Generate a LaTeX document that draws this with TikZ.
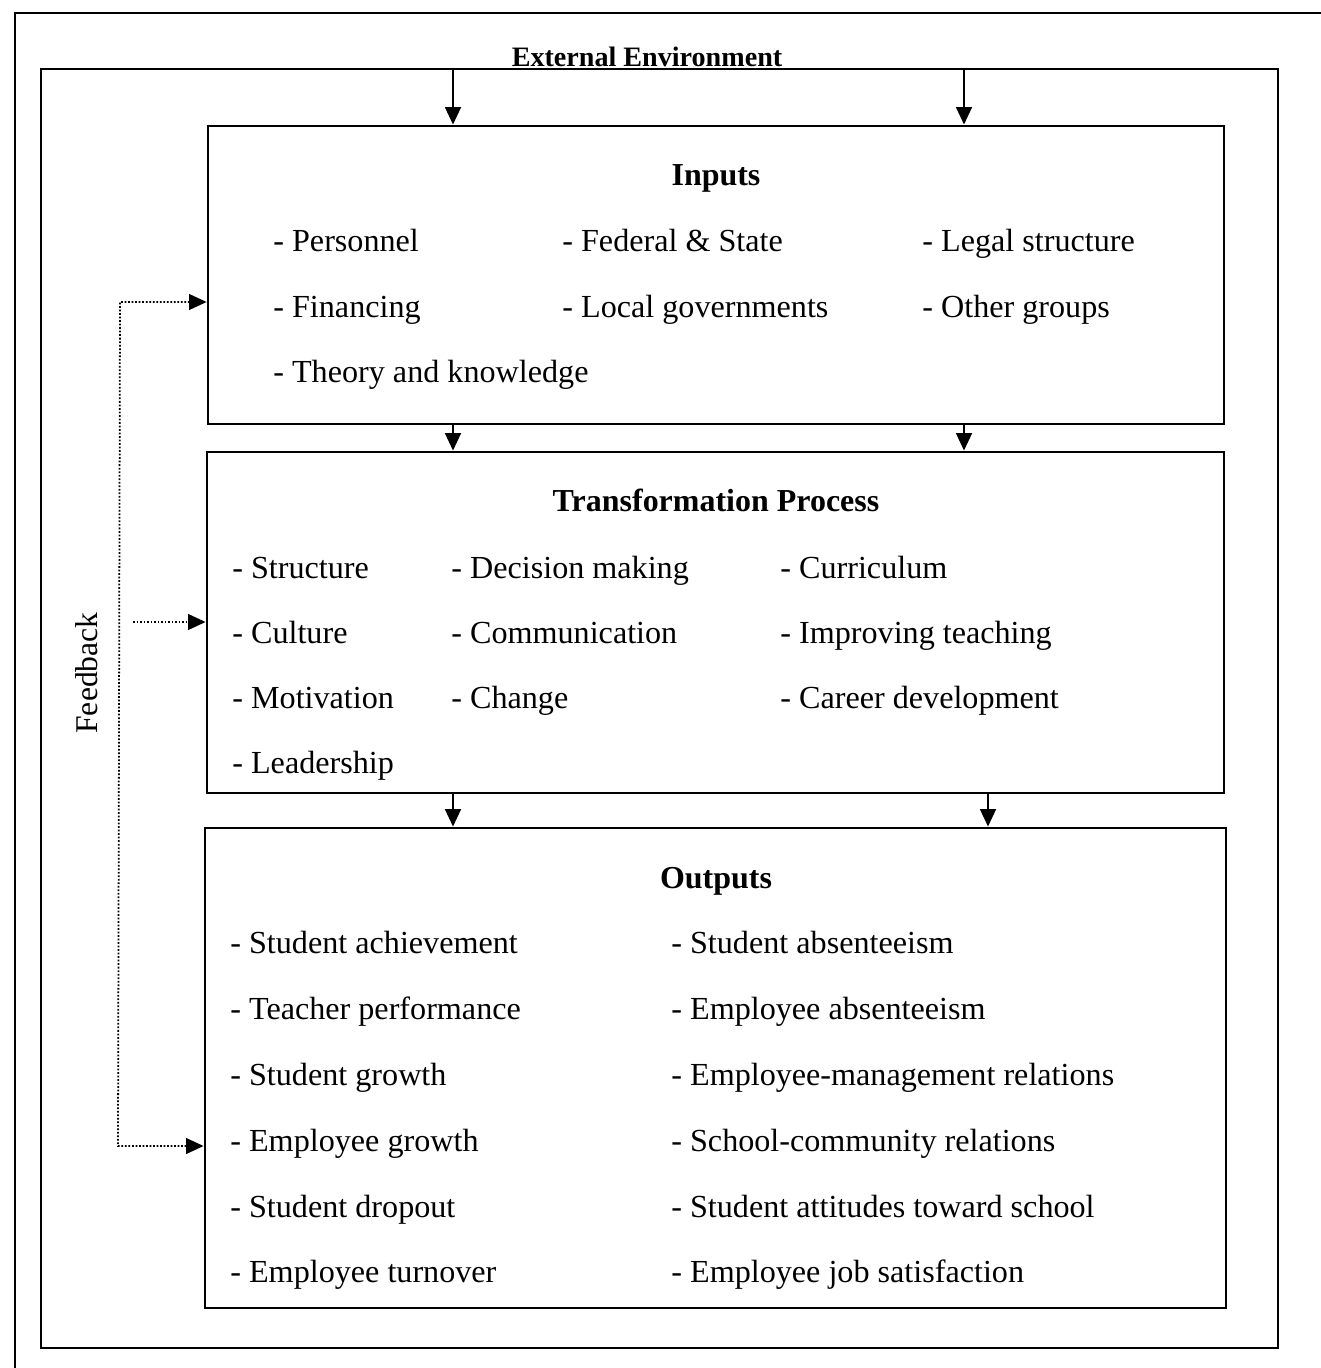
\documentclass[tikz,border=0pt]{standalone}
\usepackage{fontspec}
\setmainfont{Liberation Serif}
\usetikzlibrary{arrows.meta,fit}

\begin{document}
\begin{tikzpicture}[x=0.02cm,y=-0.02cm,
  frame/.style={draw,line width=1.6pt,inner sep=0pt},
  arr/.style={-{Triangle[length=10pt,width=9pt]},line width=1.3pt},
  fb/.style={densely dotted,line width=1pt},
  title/.style={font=\fontsize{18.2}{22}\selectfont\bfseries,anchor=base},
  item/.style={font=\fontsize{18.3}{22}\selectfont,anchor=base west,inner sep=0pt}]
\useasboundingbox (0,0) rectangle (1320,1368);

% outer frame, cut off at the right and the bottom
\draw[line width=1.6pt] (15,13) rectangle (1345,1400);

% External environment
\node[frame,fit={(41,69) (1278,1348)}] (env) {};
\node[title,font=\fontsize{16}{19}\selectfont\bfseries] (envlbl) at (647,67) {External Environment};

% Inputs
\node[frame,fit={(208,126) (1224,424)}] (inputs) {};
\node[title] (intitle) at (716,186) {Inputs};
\foreach \t [count=\i] in {Personnel,Financing,Theory and knowledge}
  \node[item] (inA\i) at (273,187+65*\i) {- \t};
\foreach \t [count=\i] in {Federal \& State,Local governments}
  \node[item] (inB\i) at (562,187+65*\i) {- \t};
\foreach \t [count=\i] in {Legal structure,Other groups}
  \node[item] (inC\i) at (922,187+65*\i) {- \t};

% Transformation process
\node[frame,fit={(207,452) (1224,793)}] (trans) {};
\node[title] (trtitle) at (716,511) {Transformation Process};
\foreach \t [count=\i] in {Structure,Culture,Motivation,Leadership}
  \node[item] (trA\i) at (232,513+65*\i) {- \t};
\foreach \t [count=\i] in {Decision making,Communication,Change}
  \node[item] (trB\i) at (451,513+65*\i) {- \t};
\foreach \t [count=\i] in {Curriculum,Improving teaching,Career development}
  \node[item] (trC\i) at (780,513+65*\i) {- \t};

% Outputs
\node[frame,fit={(205,828) (1226,1308)}] (outputs) {};
\node[title] (outtitle) at (716,888) {Outputs};
\foreach \t [count=\i] in {Student achievement,Teacher performance,Student growth,Employee growth,Student dropout,Employee turnover}
  \node[item] (outA\i) at (230,888+65.8*\i) {- \t};
\foreach \t [count=\i] in {Student absenteeism,Employee absenteeism,Employee-management relations,School-community relations,Student attitudes toward school,Employee job satisfaction}
  \node[item] (outB\i) at (671,888+65.8*\i) {- \t};

% flow arrows
\coordinate (xl) at (453,0);
\coordinate (xr) at (964,0);
\coordinate (xo) at (988,0);
\draw[arr] (xl |- env.north) -- (xl |- inputs.north);
\draw[arr] (xr |- env.north) -- (xr |- inputs.north);
\draw[arr] (xl |- inputs.south) -- (xl |- trans.north);
\draw[arr] (xr |- inputs.south) -- (xr |- trans.north);
\draw[arr] (xl |- trans.south) -- (xl |- outputs.north);
\draw[arr] (xo |- trans.south) -- (xo |- outputs.north);

% Feedback
\coordinate (fbtop) at (120,302);
\coordinate (fbbot) at (118,1146);
\coordinate (fbmid) at (133,622);
\draw[fb,{Triangle[length=10pt,width=9pt]}-{Triangle[length=10pt,width=9pt]}]
  (fbbot -| outputs.west) -- (fbbot) -- (fbtop) -- (fbtop -| inputs.west);
\draw[fb,-{Triangle[length=10pt,width=9pt]}] (fbmid) -- (fbmid -| trans.west);
\node[font=\fontsize{18}{22}\selectfont,rotate=90,anchor=base] (fblbl) at (97,673) {Feedback};

\end{tikzpicture}
\end{document}
